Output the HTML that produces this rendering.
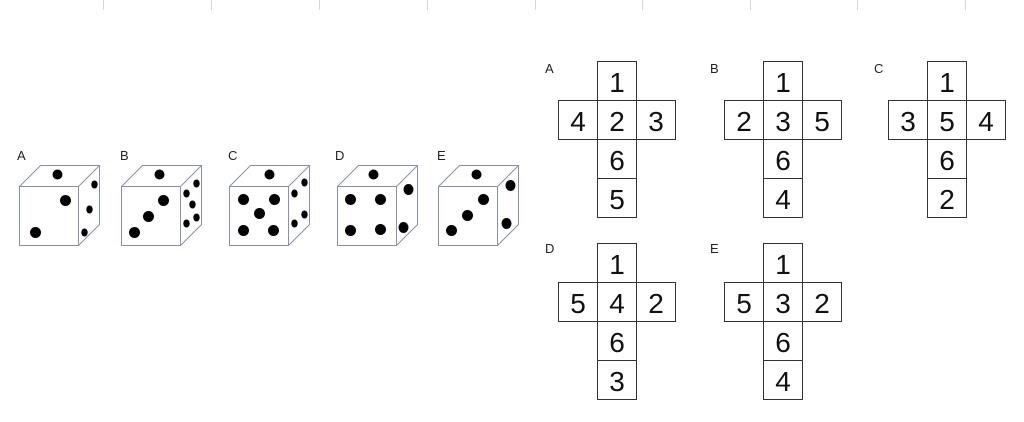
<!DOCTYPE html>
<html><head><meta charset="utf-8"><style>
html,body{margin:0;padding:0;background:#fff;}
svg{display:block;}
text{font-family:"Liberation Sans",Arial,sans-serif;}
</style></head><body>
<svg width="1024" height="422" viewBox="0 0 1024 422" xmlns="http://www.w3.org/2000/svg">
<g stroke="#d8d8d8" stroke-width="1">
<line x1="103.5" y1="0" x2="103.5" y2="10"/><line x1="211.5" y1="0" x2="211.5" y2="10"/><line x1="319.5" y1="0" x2="319.5" y2="10"/><line x1="427.5" y1="0" x2="427.5" y2="10"/><line x1="535.5" y1="0" x2="535.5" y2="10"/><line x1="642.5" y1="0" x2="642.5" y2="10"/><line x1="750.5" y1="0" x2="750.5" y2="10"/><line x1="857.5" y1="0" x2="857.5" y2="10"/><line x1="965.5" y1="0" x2="965.5" y2="10"/>
</g>
<defs>
<g id="cube" fill="none" stroke="#8a8fae" stroke-width="1">
<rect x="0" y="0" width="59" height="59"/>
<path d="M0 0 L21 -21 L80 -21 L59 0 M80 -21 L80 38 L59 59"/>
</g>
</defs>
<g font-size="13" fill="#222">
<text x="17" y="160">A</text><text x="120" y="160">B</text><text x="228" y="160">C</text><text x="335" y="160">D</text><text x="437" y="160">E</text>
</g>
<g fill="#000">
<g transform="translate(19.5,186.5)"><use href="#cube"/>
<circle cx="38" cy="-12" r="5"/><circle cx="46" cy="14" r="5.5"/><circle cx="16" cy="46" r="5.5"/>
<ellipse cx="75" cy="-2" rx="3.2" ry="4"/><ellipse cx="70" cy="23" rx="3.2" ry="4"/><ellipse cx="65" cy="46" rx="3.2" ry="4"/></g>
<g transform="translate(121.5,186.5)"><use href="#cube"/>
<circle cx="38" cy="-12" r="5"/><circle cx="42" cy="14" r="5.5"/><circle cx="27" cy="30" r="5.5"/><circle cx="13" cy="46" r="5.5"/>
<ellipse cx="75" cy="-3" rx="3.2" ry="4"/><ellipse cx="65" cy="7" rx="3.2" ry="4"/><ellipse cx="71" cy="18" rx="3.2" ry="4"/><ellipse cx="75" cy="31" rx="3.2" ry="4"/><ellipse cx="65" cy="37" rx="3.2" ry="4"/></g>
<g transform="translate(229.5,186.5)"><use href="#cube"/>
<circle cx="40" cy="-12" r="5"/><circle cx="14" cy="13" r="5.5"/><circle cx="45" cy="13" r="5.5"/><circle cx="30" cy="27" r="5.5"/><circle cx="14" cy="44" r="5.5"/><circle cx="44" cy="44" r="5.5"/>
<ellipse cx="75" cy="-4" rx="3.2" ry="4"/><ellipse cx="65" cy="7" rx="3.2" ry="4"/><ellipse cx="75" cy="28" rx="3.2" ry="4"/><ellipse cx="65" cy="37" rx="3.2" ry="4"/></g>
<g transform="translate(337.5,186.5)"><use href="#cube"/>
<circle cx="36" cy="-12" r="5"/><circle cx="13" cy="13" r="5.5"/><circle cx="43" cy="13" r="5.5"/><circle cx="13" cy="44" r="5.5"/><circle cx="43" cy="43" r="5.5"/>
<ellipse cx="71" cy="3" rx="5" ry="5.5"/><ellipse cx="66" cy="41" rx="5" ry="5.5"/></g>
<g transform="translate(438.5,186.5)"><use href="#cube"/>
<circle cx="38" cy="-12" r="5"/><circle cx="45" cy="13" r="5.5"/><circle cx="29" cy="29" r="5.5"/><circle cx="13" cy="44" r="5.5"/>
<ellipse cx="72" cy="-1" rx="5" ry="5.5"/><ellipse cx="68" cy="37" rx="5" ry="5.5"/></g>
</g>
<g font-size="13" fill="#222">
<text x="545" y="73">A</text><text x="710" y="73">B</text><text x="874" y="73">C</text><text x="545" y="253">D</text><text x="710" y="253">E</text>
</g>
<g fill="none" stroke="#333" stroke-width="1">
<rect x="597.5" y="61.5" width="39" height="39"/><rect x="558.5" y="100.5" width="117" height="39"/><line x1="597.5" y1="100.5" x2="597.5" y2="139.5"/><line x1="636.5" y1="100.5" x2="636.5" y2="139.5"/><rect x="597.5" y="139.5" width="39" height="39"/><rect x="597.5" y="178.5" width="39" height="39"/>
<rect x="763.5" y="61.5" width="39" height="39"/><rect x="724.5" y="100.5" width="117" height="39"/><line x1="763.5" y1="100.5" x2="763.5" y2="139.5"/><line x1="802.5" y1="100.5" x2="802.5" y2="139.5"/><rect x="763.5" y="139.5" width="39" height="39"/><rect x="763.5" y="178.5" width="39" height="39"/>
<rect x="927.5" y="61.5" width="39" height="39"/><rect x="888.5" y="100.5" width="117" height="39"/><line x1="927.5" y1="100.5" x2="927.5" y2="139.5"/><line x1="966.5" y1="100.5" x2="966.5" y2="139.5"/><rect x="927.5" y="139.5" width="39" height="39"/><rect x="927.5" y="178.5" width="39" height="39"/>
<rect x="597.5" y="243.5" width="39" height="39"/><rect x="558.5" y="282.5" width="117" height="39"/><line x1="597.5" y1="282.5" x2="597.5" y2="321.5"/><line x1="636.5" y1="282.5" x2="636.5" y2="321.5"/><rect x="597.5" y="321.5" width="39" height="39"/><rect x="597.5" y="360.5" width="39" height="39"/>
<rect x="763.5" y="243.5" width="39" height="39"/><rect x="724.5" y="282.5" width="117" height="39"/><line x1="763.5" y1="282.5" x2="763.5" y2="321.5"/><line x1="802.5" y1="282.5" x2="802.5" y2="321.5"/><rect x="763.5" y="321.5" width="39" height="39"/><rect x="763.5" y="360.5" width="39" height="39"/>
</g>
<g font-size="28" fill="#111" text-anchor="middle">
<text x="617" y="92">1</text><text x="578" y="131">4</text><text x="617" y="131">2</text><text x="656" y="131">3</text><text x="617" y="170">6</text><text x="617" y="209">5</text>
<text x="783" y="92">1</text><text x="744" y="131">2</text><text x="783" y="131">3</text><text x="822" y="131">5</text><text x="783" y="170">6</text><text x="783" y="209">4</text>
<text x="947" y="92">1</text><text x="908" y="131">3</text><text x="947" y="131">5</text><text x="986" y="131">4</text><text x="947" y="170">6</text><text x="947" y="209">2</text>
<text x="617" y="274">1</text><text x="578" y="313">5</text><text x="617" y="313">4</text><text x="656" y="313">2</text><text x="617" y="352">6</text><text x="617" y="391">3</text>
<text x="783" y="274">1</text><text x="744" y="313">5</text><text x="783" y="313">3</text><text x="822" y="313">2</text><text x="783" y="352">6</text><text x="783" y="391">4</text>
</g>
</svg>
</body></html>
